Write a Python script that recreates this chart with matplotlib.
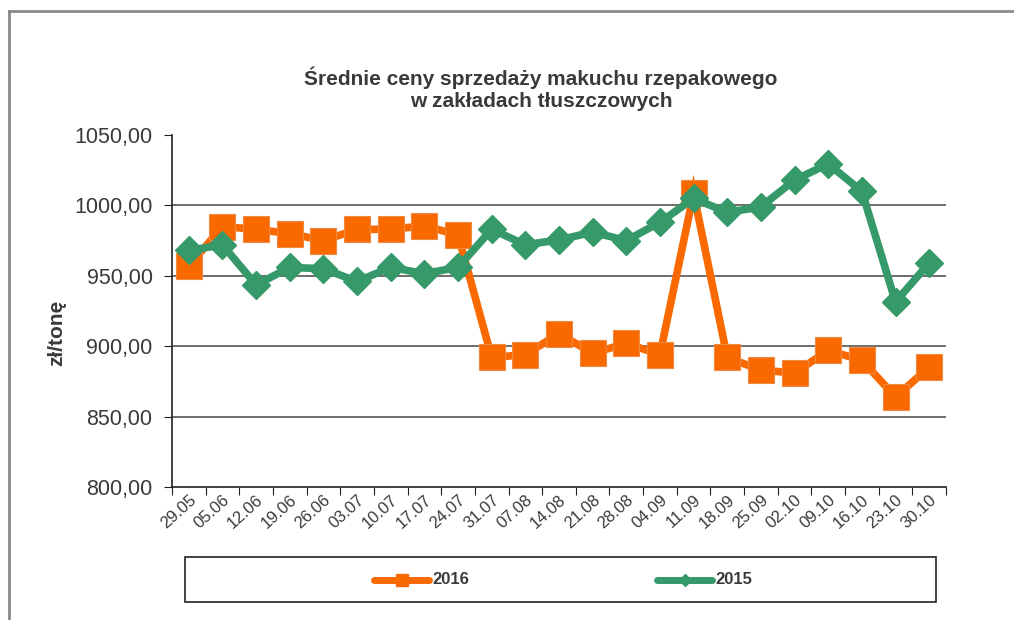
import matplotlib
matplotlib.use("Agg")
import matplotlib.pyplot as plt
from matplotlib.patches import Rectangle
from matplotlib.lines import Line2D

plt.rcParams['font.family'] = ['Liberation Sans', 'DejaVu Sans']

dates = ["29.05", "05.06", "12.06", "19.06", "26.06", "03.07", "10.07", "17.07",
         "24.07", "31.07", "07.08", "14.08", "21.08", "28.08", "04.09", "11.09",
         "18.09", "25.09", "02.10", "09.10", "16.10", "23.10", "30.10"]
s2016 = [957, 985, 983, 980, 975, 983, 983, 985.5, 979, 892, 894, 909, 895, 902,
         894, 1008.5, 892, 883, 881, 897, 890, 864, 885]
s2015 = [968, 972, 943.5, 956, 955, 946, 956, 951.5, 956, 983, 972, 975.5, 981,
         975, 988, 1005, 995, 999, 1018, 1029.5, 1010, 931.5, 959]
series_names = ["2016", "2015"]
yticks = [800, 850, 900, 950, 1000, 1050]
ytick_labels = ["800,00", "850,00", "900,00", "950,00", "1000,00", "1050,00"]

C16 = "#FA6800"
C15 = "#35996A"
TXT = "#3A3A3A"

fig = plt.figure(figsize=(10.14, 6.2), dpi=100)
W, H = 1014, 620

def fx(px):
    return px / W

def fy(py):
    return 1 - py / H

# outer chart frame (top and left visible)
fig.add_artist(Line2D([fx(9), fx(1014)], [fy(11), fy(11)], color="#8a8a8a", lw=2.0))
fig.add_artist(Line2D([fx(9), fx(9)], [fy(11), fy(620)], color="#8a8a8a", lw=2.0))

ax = fig.add_axes([fx(172), fy(487), fx(946) - fx(172), fy(135) - fy(487)])
x = list(range(len(dates)))
ax.plot(x, s2016, color=C16, lw=5.5, marker="s", markersize=18.5,
        markerfacecolor=C16, markeredgecolor="#F08A40", markeredgewidth=0.8,
        solid_joinstyle="miter", zorder=3)
ax.plot(x, s2015, color=C15, lw=5.5, marker="D", markersize=14.5,
        markerfacecolor=C15, markeredgecolor=C15, zorder=4)

ax.set_xlim(-0.5, len(dates) - 0.5)
ax.set_ylim(800, 1050)
ax.set_yticks(yticks)
ax.set_yticklabels(ytick_labels, fontsize=15.5, color=TXT)
for v in yticks[1:-1]:
    ax.axhline(v, color="#555555", lw=1.2, zorder=1)

ax.set_xticks([i + 0.5 for i in range(-1, len(dates))], minor=False)
ax.set_xticklabels([])
ax.tick_params(axis="x", which="major", length=6, direction="out", color="#222222")
ax.set_xticks(x, minor=True)
ax.set_xticklabels(dates, minor=True, rotation=42, ha="right", va="top",
                   rotation_mode="anchor", fontsize=12, color=TXT)
ax.tick_params(axis="x", which="minor", length=0, pad=4)
ax.tick_params(axis="y", length=6, direction="out", color="#222222", pad=8)

for side in ["top", "right"]:
    ax.spines[side].set_visible(False)
ax.spines["left"].set_color("#222222")
ax.spines["bottom"].set_color("#222222")
ax.spines["left"].set_linewidth(1.2)
ax.spines["bottom"].set_linewidth(1.2)

ax.set_ylabel("zł/tonę", fontsize=15, fontweight="bold", color=TXT)
ax.yaxis.set_label_coords((66 - 172) / (946 - 172), (487 - 333) / (487 - 135))

fig.text(fx(541), fy(89), "Średnie ceny sprzedaży makuchu rzepakowego\nw zakładach tłuszczowych",
         ha="center", va="center", fontsize=15, fontweight="bold", color=TXT,
         linespacing=1.2)

# legend box
fig.add_artist(Rectangle((fx(185), fy(602)), fx(936) - fx(185), fy(557) - fy(602),
                         transform=fig.transFigure, fill=False, edgecolor="#222222", lw=1.2))
leg_items = [(series_names[0], C16, "s", 8, 374), (series_names[1], C15, "D", 6, 657)]
for name, col, mk, ms, x0 in leg_items:
    fig.add_artist(Line2D([fx(x0), fx(x0 + 55)], [fy(580), fy(580)], color=col, lw=5,
                          solid_capstyle="round"))
    fig.add_artist(Line2D([fx(x0 + 27.5)], [fy(580)], color=col, marker=mk,
                          markersize=ms, lw=0))
    fig.text(fx(x0 + 58), fy(580), name, ha="left", va="center", fontsize=12,
             fontweight="bold", color=TXT)

fig.savefig("out.png", dpi=100, facecolor="white")
